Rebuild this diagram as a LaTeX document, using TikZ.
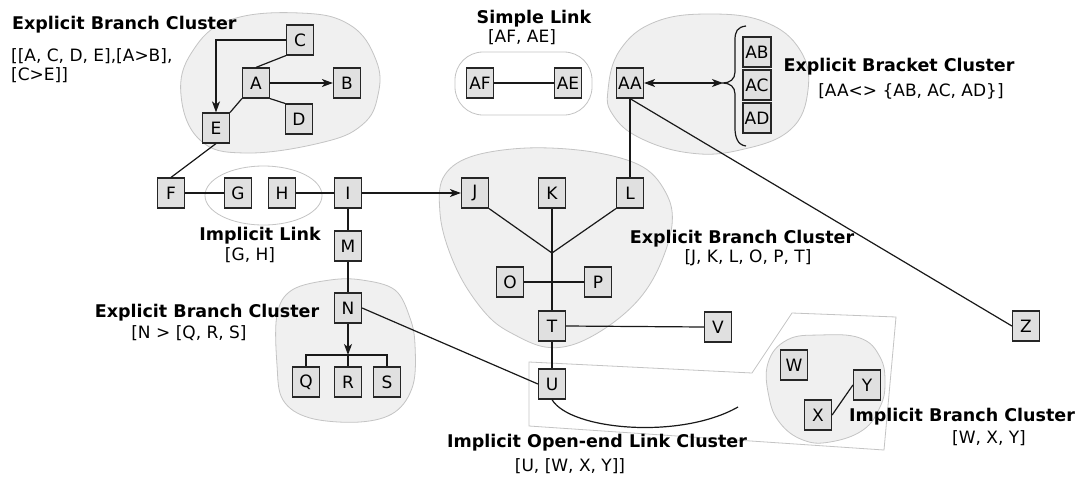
\documentclass[tikz,border=0pt]{standalone}
\usepackage{fontspec}
\setmainfont{DejaVu Sans}
\usetikzlibrary{arrows.meta}
\definecolor{boxgray}{HTML}{E0E0E0}
\definecolor{blobfill}{HTML}{F0F0F0}
\definecolor{blobline}{HTML}{C4C4C4}
\newcommand{\nfont}{\fontsize{17pt}{20pt}\selectfont}
\newcommand{\tfont}{\fontsize{17.5pt}{20pt}\selectfont\bfseries}
\begin{document}
\begin{tikzpicture}[x=1pt,y=-1pt,
  box/.style={draw=black!85, fill=boxgray, line width=1.2pt, minimum width=27pt, minimum height=30pt, inner sep=0pt, font=\nfont},
  conn/.style={line width=1.2pt, draw=black!90},
  arr/.style={conn, -{Stealth[length=11pt,width=8pt,inset=3pt]}},
  blob/.style={fill=blobfill, draw=blobline, line width=0.8pt},
  hull/.style={draw=blobline, line width=0.8pt},
  ttl/.style={font=\tfont, inner sep=0pt},
  lbl/.style={font=\nfont, inner sep=0pt}]
\useasboundingbox[fill=white] (0,0) rectangle (1082,480);
% clusters
\draw[blob] plot[smooth cycle, tension=0.7] coordinates {(181,95) (192,52) (230,20) (300,13) (350,25) (376,60) (378,95) (362,125) (320,143) (245,153) (200,140)};
\draw[blob] plot[smooth cycle, tension=0.7] coordinates {(608,90) (620,50) (655,22) (710,14) (765,22) (800,50) (808,90) (790,130) (740,150) (690,153) (640,138) (613,115)};
\draw[blob] plot[smooth cycle, tension=0.6] coordinates {(440,213) (443,178) (470,157) (527,148) (593,152) (643,167) (667,195) (672,225) (660,265) (640,298) (610,325) (575,344) (545,347) (515,335) (490,318) (465,285) (448,248)};
\draw[blob] plot[smooth cycle, tension=0.6] coordinates {(277,315) (292,290) (330,280) (362,280) (395,290) (410,318) (415,345) (413,385) (395,412) (360,422) (310,418) (283,400) (277,365)};
\draw[blob] plot[smooth cycle, tension=0.7] coordinates {(768,363) (787,340) (820,335) (860,338) (880,357) (885,383) (880,407) (863,430) (830,442) (803,440) (780,423) (769,397)};
\draw[hull, rounded corners=28pt] (455,52) rectangle (592,115);
\draw[hull] (263.5,195.5) ellipse [x radius=58.5, y radius=29.5];
\draw[hull] (529,362) -- (752,373) -- (792,313) -- (896,317) -- (884,450) -- (529,426) -- cycle;
% nodes
\node[box] (A) at (256,83) {A};
\node[box] (B) at (347,83) {B};
\node[box] (C) at (300,40) {C};
\node[box] (D) at (299,119) {D};
\node[box] (E) at (216,128) {E};
\node[box] (F) at (171,193) {F};
\node[box] (G) at (238,193) {G};
\node[box] (H) at (282,193) {H};
\node[box] (I) at (348,193) {I};
\node[box] (M) at (348,246) {M};
\node[box] (N) at (348,308) {N};
\node[box] (Q) at (306,382) {Q};
\node[box] (R) at (348,382) {R};
\node[box] (S) at (387,382) {S};
\node[box] (J) at (475,193) {J};
\node[box] (K) at (552,193) {K};
\node[box] (L) at (630,193) {L};
\node[box] (O) at (510,282) {O};
\node[box] (P) at (598,282) {P};
\node[box] (T) at (552,326) {T};
\node[box] (U) at (552,384) {U};
\node[box] (V) at (718,327) {V};
\node[box] (AF) at (480,83) {AF};
\node[box] (AE) at (568,83) {AE};
\node[box] (AA) at (630,83) {AA};
\node[box,minimum width=28pt] (AB) at (757,52) {AB};
\node[box,minimum width=28pt] (AC) at (757,85) {AC};
\node[box,minimum width=28pt] (AD) at (757,118) {AD};
\node[box] (Z) at (1026,326) {Z};
\node[box] (W) at (794,365) {W};
\node[box] (Y) at (867,385) {Y};
\node[box] (X) at (818,415) {X};
\coordinate (jn) at (552,253);
\coordinate (nb) at (348,355);
\coordinate (bt) at (723,83);
\coordinate (ue) at (738,407);
% connectors
\draw[arr] (C.west) -| (E.north);
\draw[arr] (A.east) -- (B.west);
\draw[conn] (A.north) -- (C.south west);
\draw[conn] (A.south east) -- (D.north west);
\draw[conn] (E.north east) -- (A.south west);
\draw[conn] (F.north) -- (E.south);
\draw[conn] (F.east) -- (G.west);
\draw[conn] (H.east) -- (I.west);
\draw[arr] (I.east) -- (J.west);
\draw[conn] (I.south) -- (M.north);
\draw[conn] (M.south) -- (N.north);
\draw[arr] (N.south) -- (nb);
\draw[conn] (Q.north) |- (nb) -| (S.north);
\draw[conn] (nb) -- (R.north);
\draw[conn] (N.east) -- (U.west);
\draw[conn] (J.south east) -- (jn);
\draw[conn] (L.south west) -- (jn);
\draw[conn] (K.south) -- (T.north);
\draw[conn] (O.east) -- (P.west);
\draw[conn] (T.east) -- (V.west);
\draw[conn] (T.south) -- (U.north);
\draw[conn] (U.south) .. controls (570,430) and (680,440) .. (ue);
\draw[conn] (AF.east) -- (AE.west);
\draw[conn, {Stealth[length=11pt,width=8pt,inset=3pt]}-{Stealth[length=11pt,width=8pt,inset=3pt]}] (AA.east) -- (bt);
\draw[conn] (AA.south) -- (L.north);
\draw[conn] (AA.south) -- (Z.west);
\draw[conn] (X.east) -- (Y.west);
\draw[conn] (746,26) .. controls (737,27) and (735,32) .. (735,40) -- (735,72) .. controls (735,79) and (730,83) .. (bt) .. controls (730,83) and (735,87) .. (735,94) -- (735,128) .. controls (735,136) and (737,145) .. (746,146);
% labels
\node[ttl, anchor=west] (t1) at (12,25) {Explicit Branch Cluster};
\node[lbl, anchor=west] (c1a) at (11,56) {[[A, C, D, E],[A>B],};
\node[lbl, anchor=west] (c1b) at (11,75) {[C>E]]};
\node[ttl] (t2) at (534,19) {Simple Link};
\node[lbl] (c2) at (522,37) {[AF, AE]};
\node[ttl] (t3) at (899,67) {Explicit Bracket Cluster};
\node[lbl] (c3) at (911,91) {[AA<> \{AB, AC, AD\}]};
\node[ttl] (t4) at (260,236) {Implicit Link};
\node[lbl] (c4) at (250,255) {[G, H]};
\node[ttl] (t5) at (742,239) {Explicit Branch Cluster};
\node[lbl] (c5) at (748,258) {[J, K, L, O, P, T]};
\node[ttl] (t6) at (207,313) {Explicit Branch Cluster};
\node[lbl] (c6) at (189,333) {[N > [Q, R, S]};
\node[ttl] (t7) at (597,443) {Implicit Open-end Link Cluster};
\node[lbl] (c7) at (570,466) {[U, [W, X, Y]]};
\node[ttl] (t8) at (962,417) {Implicit Branch Cluster};
\node[lbl] (c8) at (989,438) {[W, X, Y]};
\end{tikzpicture}
\end{document}
